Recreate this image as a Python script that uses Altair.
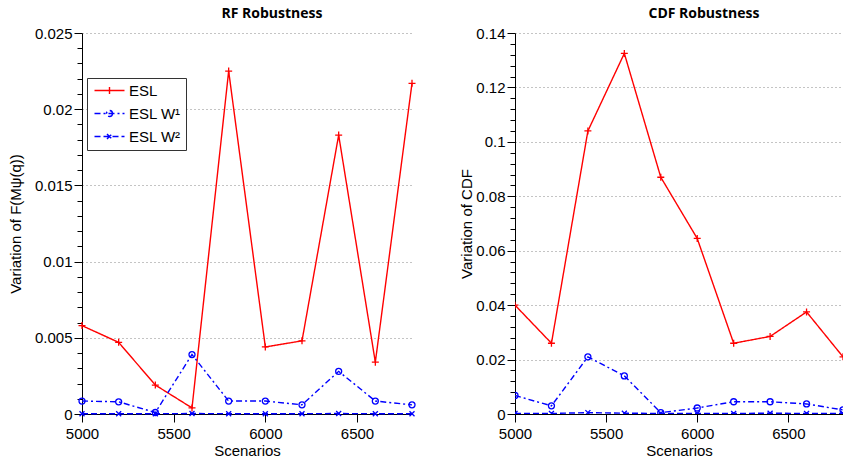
import altair as alt
import pandas as pd

scenarios = [5000, 5200, 5400, 5600, 5800, 6000, 6200, 6400, 6600, 6800]

rf_esl = [0.0058, 0.0047, 0.0019, 0.0004, 0.0225, 0.0044, 0.0048, 0.0183, 0.0034, 0.0217]
rf_w1 = [0.00085, 0.0008, 0.0001, 0.0039, 0.00085, 0.00085, 0.0006, 0.0028, 0.00085, 0.0006]
rf_w2 = [0.00002, 0.00002, 0.00002, 0.00003, 0.00002, 0.00002, 0.00002, 0.00003, 0.00002, 0.00002]

cdf_esl = [0.040, 0.026, 0.104, 0.1325, 0.087, 0.0645, 0.026, 0.0285, 0.0375, 0.021]
cdf_w1 = [0.0068, 0.0030, 0.021, 0.014, 0.0005, 0.0022, 0.0045, 0.0045, 0.0037, 0.0015]
cdf_w2 = [0.0002, 0.0002, 0.0005, 0.0003, 0.0002, 0.0002, 0.0002, 0.0003, 0.0002, 0.0002]

series_names = ["ESL", "ESL W\u00b9", "ESL W\u00b2"]
series_colors = ["#ff0000", "#0000ff", "#0000ff"]
series_dashes = [[1, 0], [6, 3, 2, 3], [6, 3]]
marker_paths = ["M-1,0H1M0,-1V1", "circle", "M-1,-1L1,1M-1,1L1,-1"]
marker_sizes = [49, 36, 25]
legend_paths = [
    "M-3,0H3M0,-0.7V0.7",
    "M-3,0H3M0.6,0A0.6,0.6,0,1,1,-0.6,0A0.6,0.6,0,1,1,0.6,0",
    "M-3,0H3M-0.5,-0.5L0.5,0.5M-0.5,0.5L0.5,-0.5",
]

x_ticks = [5000, 5500, 6000, 6500]
rf_major = [0, 0.005, 0.01, 0.015, 0.02, 0.025]
rf_minor = [round(i * 0.001, 4) for i in range(1, 25) if i % 5 != 0]
cdf_major = [0, 0.02, 0.04, 0.06, 0.08, 0.1, 0.12, 0.14]
cdf_minor = [round(i * 0.004, 4) for i in range(1, 35) if i % 5 != 0]


def make_df(esl, w1, w2):
    rows = []
    for k, vals in enumerate([esl, w1, w2]):
        for s, v in zip(scenarios, vals):
            rows.append({"scenario": s, "value": v, "series": series_names[k],
                         "marker": marker_paths[k], "msize": marker_sizes[k]})
    return pd.DataFrame(rows)


color_scale = alt.Scale(domain=series_names, range=series_colors)
dash_scale = alt.Scale(domain=series_names, range=series_dashes)
shape_scale = alt.Scale(domain=series_names, range=legend_paths)

FONT = "Liberation Sans"


def panel(df, title, ytitle, ymax, majors, minors, title_x, width, with_legend, clip):
    xenc = alt.X("scenario:Q",
                 scale=alt.Scale(domain=[5000, 6800], nice=False, zero=False),
                 axis=alt.Axis(values=x_ticks, title="Scenarios", labelFlush=False,
                               grid=False, tickSize=8, labelPadding=4, titlePadding=2,
                               format="d"))
    yscale = alt.Scale(domain=[0, ymax], nice=False, zero=True)
    yenc = alt.Y("value:Q", scale=yscale,
                 axis=alt.Axis(values=majors, format="~g", grid=True, tickSize=8,
                               labelPadding=2, title=ytitle, titleX=title_x,
                               titleBaseline="middle", orient="left"))
    ynone = alt.Y("value:Q", scale=yscale, axis=None)
    base = alt.Chart(df)
    lines = base.mark_line(strokeWidth=1.4, clip=clip).encode(
        x=xenc, y=yenc,
        color=alt.Color("series:N", scale=color_scale, legend=None),
        strokeDash=alt.StrokeDash("series:N", scale=dash_scale, legend=None),
    )
    points = base.mark_point(filled=False, strokeWidth=1.3, opacity=1, clip=clip).encode(
        x=xenc, y=ynone,
        color=alt.Color("series:N", scale=color_scale, legend=None),
        shape=alt.Shape("marker:N", scale=None),
        size=alt.Size("msize:Q", scale=None),
    )
    minor = base.mark_point(opacity=0, size=0, clip=True).encode(
        y=alt.Y("value:Q", scale=yscale,
                axis=alt.Axis(values=minors, labels=False, tickSize=5, domain=False,
                              grid=False, title=None, orient="left")),
    )
    layers = []
    if with_legend:
        leg = base.mark_point(filled=False, strokeWidth=1.4, size=0, opacity=1, clip=True).encode(
            x=xenc, y=ynone,
            color=alt.Color("series:N", scale=color_scale,
                            legend=alt.Legend(orient="none", legendX=5, legendY=45, title=None,
                                              strokeColor="#333333", fillColor="white",
                                              padding=5, symbolSize=100, symbolStrokeWidth=1.4,
                                              symbolOffset=10, labelOffset=12,
                                              labelFontSize=15, labelFont=FONT,
                                              labelColor="black", rowPadding=7)),
            strokeDash=alt.StrokeDash("series:N", scale=dash_scale,
                                      legend=alt.Legend(orient="none", legendX=5, legendY=45,
                                                        title=None)),
            shape=alt.Shape("series:N", scale=shape_scale,
                            legend=alt.Legend(orient="none", legendX=5, legendY=45,
                                              title=None)),
        )
        layers.append(leg)
    layers += [lines, points, minor]
    return alt.layer(*layers).resolve_axis(y="independent").properties(
        width=width, height=381,
        title=alt.TitleParams(title, fontSize=14, font="Open Sans", fontWeight="bold",
                              anchor="middle", frame="group", offset=5, dx=25, color="black"),
    )


left = panel(make_df(rf_esl, rf_w1, rf_w2), "RF Robustness", "Variation of F(M\u03c8(q))",
             0.025, rf_major, rf_minor, -67, 330, True, False)
right = panel(make_df(cdf_esl, cdf_w1, cdf_w2), "CDF Robustness", "Variation of CDF",
              0.14, cdf_major, cdf_minor, -49, 328, False, True)

chart = alt.hconcat(left, right, spacing=103, bounds="flush").properties(
    padding={"left": 8, "top": 7, "right": 0, "bottom": 0},
).configure_view(strokeWidth=0).configure_axis(
    labelFont=FONT, titleFont=FONT, labelFontSize=15, titleFontSize=15,
    labelColor="black", titleColor="black", domainColor="black", tickColor="black",
    titleFontWeight="normal", gridColor="#888888", gridDash=[1, 3], gridWidth=1,
    domainWidth=1, tickWidth=1,
)

chart.save("out.html", embed_options={"renderer": "svg", "actions": False})
